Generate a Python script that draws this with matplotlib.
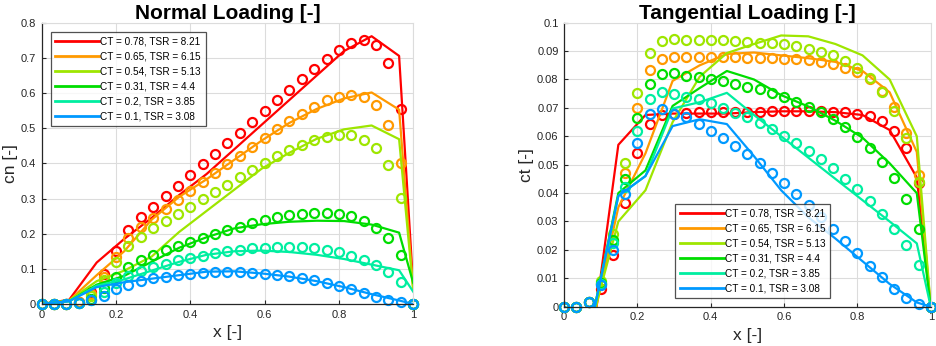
import numpy as np
import matplotlib
matplotlib.use("Agg")
import matplotlib.pyplot as plt

plt.rcParams['font.family'] = ['Liberation Sans', 'DejaVu Sans']

labels = ["CT = 0.78, TSR = 8.21", "CT = 0.65, TSR = 6.15", "CT = 0.54, TSR = 5.13",
          "CT = 0.31, TSR = 4.4", "CT = 0.2, TSR = 3.85", "CT = 0.1, TSR = 3.08"]
colors = ['#ff0000', '#ff9900', '#9ee600', '#00dd00', '#00eea0', '#0099ff']

# measurement points (circles) at x = i/30
x_pts = [i / 30 for i in range(31)]
# model lines
x_line = [0, 0.074, 0.148, 0.222, 0.296, 0.37, 0.444, 0.518, 0.592, 0.666, 0.74, 0.814, 0.888, 0.962, 1.0]

cn_pts = [
    [0, 0, 0, 0.005, 0.035, 0.085, 0.152, 0.21, 0.247, 0.277, 0.307, 0.336, 0.367, 0.397, 0.427, 0.457,
     0.487, 0.518, 0.549, 0.58, 0.61, 0.641, 0.67, 0.698, 0.722, 0.742, 0.75, 0.737, 0.686, 0.554, 0],
    [0, 0, 0, 0.005, 0.028, 0.077, 0.135, 0.187, 0.22, 0.245, 0.27, 0.297, 0.322, 0.347, 0.373, 0.398,
     0.422, 0.447, 0.473, 0.497, 0.52, 0.542, 0.562, 0.58, 0.59, 0.595, 0.59, 0.565, 0.51, 0.4, 0],
    [0, 0, 0, 0.003, 0.022, 0.068, 0.12, 0.165, 0.192, 0.215, 0.235, 0.255, 0.277, 0.298, 0.32, 0.34,
     0.36, 0.38, 0.4, 0.42, 0.437, 0.452, 0.466, 0.475, 0.48, 0.48, 0.468, 0.443, 0.395, 0.303, 0],
    [0, 0, 0, 0.002, 0.015, 0.045, 0.077, 0.105, 0.125, 0.14, 0.153, 0.165, 0.176, 0.187, 0.199, 0.21,
     0.22, 0.23, 0.24, 0.247, 0.252, 0.257, 0.26, 0.26, 0.257, 0.25, 0.236, 0.217, 0.187, 0.14, 0],
    [0, 0, 0, 0.002, 0.012, 0.035, 0.06, 0.08, 0.093, 0.105, 0.115, 0.124, 0.132, 0.138, 0.145, 0.15,
     0.155, 0.158, 0.16, 0.162, 0.163, 0.162, 0.16, 0.155, 0.148, 0.138, 0.126, 0.11, 0.09, 0.063, 0],
    [0, 0, 0, 0.002, 0.01, 0.024, 0.042, 0.054, 0.065, 0.073, 0.078, 0.082, 0.085, 0.088, 0.09, 0.09,
     0.09, 0.088, 0.086, 0.083, 0.079, 0.074, 0.068, 0.061, 0.052, 0.042, 0.031, 0.02, 0.011, 0.005, 0],
]
cn_line = [
    [0, 0.012, 0.118, 0.185, 0.245, 0.31, 0.37, 0.44, 0.51, 0.58, 0.65, 0.72, 0.762, 0.706, 0.05],
    [0, 0.01, 0.082, 0.15, 0.24, 0.305, 0.355, 0.41, 0.465, 0.515, 0.555, 0.585, 0.602, 0.553, 0.04],
    [0, 0.01, 0.065, 0.095, 0.135, 0.205, 0.265, 0.325, 0.385, 0.43, 0.47, 0.497, 0.508, 0.469, 0.04],
    [0, 0.008, 0.055, 0.08, 0.12, 0.16, 0.19, 0.215, 0.227, 0.234, 0.237, 0.236, 0.226, 0.203, 0.06],
    [0, 0.008, 0.052, 0.07, 0.095, 0.12, 0.14, 0.15, 0.152, 0.148, 0.14, 0.128, 0.112, 0.096, 0.035],
    [0, 0.008, 0.048, 0.062, 0.072, 0.082, 0.092, 0.093, 0.087, 0.078, 0.065, 0.048, 0.028, 0.01, 0.0],
]

ct_pts = [
    [0, 0, 0.0015, 0.0063, 0.0182, 0.0366, 0.0541, 0.0643, 0.0675, 0.068, 0.0683, 0.0684, 0.0684, 0.0684,
     0.0684, 0.0685, 0.0686, 0.0688, 0.0688, 0.0688, 0.0688, 0.0688, 0.0685, 0.0684, 0.068, 0.0671,
     0.0655, 0.062, 0.0558, 0.0434, 0],
    [0, 0, 0.0015, 0.008, 0.023, 0.047, 0.07, 0.0832, 0.0871, 0.0878, 0.0878, 0.0878, 0.0878, 0.0878,
     0.0878, 0.0877, 0.0876, 0.0875, 0.0873, 0.0871, 0.0867, 0.0863, 0.0853, 0.0842, 0.0827, 0.0802,
     0.076, 0.0702, 0.0613, 0.0464, 0],
    [0, 0, 0.0015, 0.009, 0.0255, 0.0507, 0.0751, 0.0894, 0.0935, 0.0941, 0.094, 0.094, 0.094, 0.094,
     0.0937, 0.0933, 0.093, 0.0927, 0.0924, 0.0918, 0.0908, 0.0898, 0.0885, 0.0865, 0.084, 0.0804,
     0.0757, 0.0689, 0.0593, 0.0438, 0],
    [0, 0, 0.0015, 0.0085, 0.0235, 0.045, 0.0663, 0.0785, 0.082, 0.0822, 0.0813, 0.081, 0.0802, 0.0795,
     0.0785, 0.0775, 0.0765, 0.0751, 0.0737, 0.0722, 0.0704, 0.0687, 0.0661, 0.0634, 0.0599, 0.056,
     0.0511, 0.0452, 0.0378, 0.0272, 0],
    [0, 0, 0.0015, 0.008, 0.0225, 0.0423, 0.062, 0.073, 0.0757, 0.075, 0.074, 0.073, 0.0716, 0.07,
     0.0683, 0.0667, 0.0648, 0.0624, 0.0601, 0.0577, 0.0548, 0.0519, 0.0487, 0.045, 0.0413, 0.0371,
     0.0325, 0.0273, 0.0217, 0.0147, 0],
    [0, 0, 0.0015, 0.0075, 0.02, 0.0396, 0.0577, 0.0678, 0.0696, 0.068, 0.0667, 0.0642, 0.0619, 0.0594,
     0.0566, 0.0536, 0.0505, 0.0472, 0.0434, 0.0398, 0.0358, 0.0316, 0.0275, 0.0232, 0.0188, 0.0144,
     0.0106, 0.0063, 0.0032, 0.001, 0],
]
ct_line = [
    [0, -0.014, 0.057, 0.0675, 0.068, 0.068, 0.068, 0.0685, 0.0688, 0.0688, 0.0685, 0.0675, 0.0622, 0.0455, 0],
    [0, -0.008, 0.035, 0.054, 0.0795, 0.085, 0.089, 0.0895, 0.0885, 0.0875, 0.0862, 0.083, 0.0755, 0.0545, 0],
    [0, -0.006, 0.030, 0.041, 0.065, 0.081, 0.0893, 0.0925, 0.0955, 0.0952, 0.0925, 0.0885, 0.080, 0.060, 0],
    [0, -0.006, 0.040, 0.048, 0.0707, 0.077, 0.083, 0.080, 0.0745, 0.0705, 0.0655, 0.0595, 0.0505, 0.040, 0],
    [0, -0.006, 0.039, 0.046, 0.0698, 0.072, 0.0753, 0.0675, 0.060, 0.0525, 0.045, 0.0375, 0.030, 0.0223, 0],
    [0, -0.006, 0.039, 0.046, 0.0636, 0.066, 0.0643, 0.053, 0.041, 0.0315, 0.024, 0.016, 0.008, 0.0015, 0],
]

fig = plt.figure(figsize=(9.37, 3.46), dpi=100)
ax1 = fig.add_axes([0.0445, 0.1214, 0.3965, 0.8125])
ax2 = fig.add_axes([0.602, 0.1136, 0.3913, 0.8208])


def style(ax, ymax, ystep, ylabel, title):
    ax.set_xlim(0, 1)
    ax.set_ylim(0, ymax)
    ax.set_xticks(np.arange(0, 1.01, 0.2))
    ax.set_xticklabels(["0", "0.2", "0.4", "0.6", "0.8", "1"])
    yt = np.arange(0, ymax + ystep / 2, ystep)
    ax.set_yticks(yt)
    ax.set_yticklabels(["0"] + ["%g" % round(v, 3) for v in yt[1:]])
    ax.grid(True, color='#dcdcdc', linewidth=0.8)
    ax.set_axisbelow(True)
    for s in ['top', 'right']:
        ax.spines[s].set_color('#dcdcdc')
    for s in ['left', 'bottom']:
        ax.spines[s].set_color('#262626')
        ax.spines[s].set_linewidth(0.9)
    ax.tick_params(direction='in', length=3, labelsize=8, colors='#262626', pad=4,
                   top=False, right=False)
    ax.set_xlabel("x [-]", fontsize=12.5, color='#262626', labelpad=4)
    ax.set_ylabel(ylabel, fontsize=12.5, color='#262626', labelpad=2)
    ax.set_title(title, fontsize=15, fontweight='bold', pad=1)


for i in range(6):
    ax1.plot(x_line, cn_line[i], color=colors[i], lw=1.6, label=labels[i], clip_on=True)
    ax1.plot(x_pts, cn_pts[i], 'o', mfc='none', mec=colors[i], ms=6.5, mew=1.6, clip_on=False)
    ax2.plot(x_line, ct_line[i], color=colors[i], lw=1.6, label=labels[i], clip_on=True)
    ax2.plot(x_pts, ct_pts[i], 'o', mfc='none', mec=colors[i], ms=6.5, mew=1.6, clip_on=False)

style(ax1, 0.8, 0.1, "cn [-]", "Normal Loading [-]")
style(ax2, 0.1, 0.01, "ct [-]", "Tangential Loading [-]")

for ax, loc, anchor in [(ax1, 'upper left', (0.025, 0.968)), (ax2, 'lower left', (0.303, 0.032))]:
    lg = ax.legend(loc=loc, bbox_to_anchor=anchor,
                   fontsize=7.2, frameon=True, fancybox=False, handlelength=4.4,
                   handletextpad=0.1, borderpad=0.45, labelspacing=0.5, borderaxespad=0)
    lg.get_frame().set_edgecolor('#262626')
    lg.get_frame().set_linewidth(0.9)
    for l in lg.get_lines():
        l.set_linewidth(2)

fig.savefig("out.png", dpi=100)
